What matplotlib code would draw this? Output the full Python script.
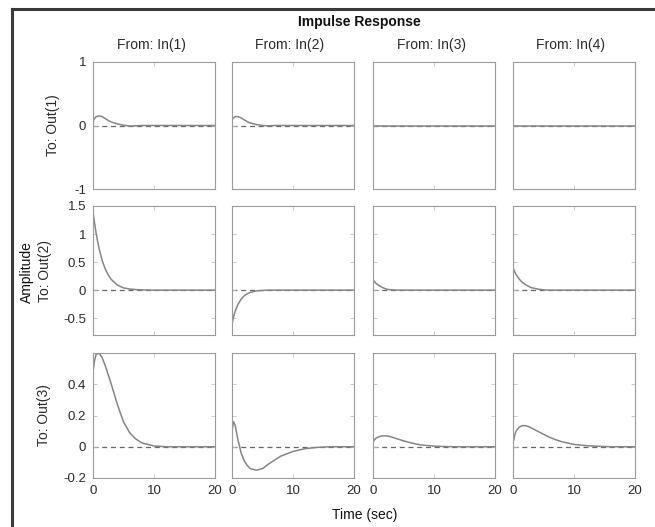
import matplotlib
matplotlib.use("Agg")
import matplotlib.pyplot as plt
from matplotlib.lines import Line2D

plt.rcParams['font.family'] = ['Liberation Sans', 'DejaVu Sans']

W, H = 655, 527

# shared time grid (sec)
t = [0, 0.25, 0.5, 1, 1.5, 2, 2.5, 3, 4, 5, 6, 7, 8, 10, 12, 14, 16, 20]

# impulse responses, Out(i) <- In(j)
out1_in1 = [0.06, 0.11, 0.14, 0.15, 0.14, 0.11, 0.08, 0.055, 0.025, 0.005, -0.008, -0.005, 0, 0, 0, 0, 0, 0]
out1_in2 = [0.09, 0.12, 0.14, 0.14, 0.12, 0.09, 0.06, 0.04, 0.015, 0.0, -0.005, 0, 0, 0, 0, 0, 0, 0]
out1_in3 = [0] * 18
out1_in4 = [0] * 18

out2_in1 = [1.4, 1.2, 1.02, 0.74, 0.53, 0.38, 0.27, 0.19, 0.09, 0.04, 0.02, 0.01, 0.005, 0, 0, 0, 0, 0]
out2_in2 = [-0.6, -0.48, -0.38, -0.25, -0.16, -0.1, -0.065, -0.04, -0.015, -0.005, 0, 0, 0, 0, 0, 0, 0, 0]
out2_in3 = [0.19, 0.15, 0.12, 0.08, 0.05, 0.025, 0.012, 0.006, 0, 0, 0, 0, 0, 0, 0, 0, 0, 0]
out2_in4 = [0.4, 0.33, 0.28, 0.2, 0.14, 0.1, 0.07, 0.045, 0.02, 0.005, 0, 0, 0, 0, 0, 0, 0, 0]

out3_in1 = [0.48, 0.55, 0.59, 0.6, 0.57, 0.52, 0.46, 0.4, 0.27, 0.16, 0.09, 0.05, 0.025, 0.005, 0, 0, 0, 0]
out3_in2 = [0.1, 0.16, 0.14, 0.04, -0.04, -0.09, -0.12, -0.14, -0.15, -0.14, -0.11, -0.085, -0.06, -0.03, -0.012, -0.004, 0, 0]
out3_in3 = [0.03, 0.045, 0.055, 0.065, 0.07, 0.07, 0.068, 0.063, 0.05, 0.038, 0.027, 0.018, 0.011, 0.004, 0.001, 0, 0, 0]
out3_in4 = [0.02, 0.07, 0.1, 0.125, 0.135, 0.135, 0.13, 0.12, 0.1, 0.08, 0.06, 0.045, 0.032, 0.015, 0.007, 0.003, 0, 0]

responses = [[out1_in1, out1_in2, out1_in3, out1_in4],
             [out2_in1, out2_in2, out2_in3, out2_in4],
             [out3_in1, out3_in2, out3_in3, out3_in4]]

in_names = ['From: In(1)', 'From: In(2)', 'From: In(3)', 'From: In(4)']
out_names = ['To: Out(1)', 'To: Out(2)', 'To: Out(3)']
ylims = [(-1, 1), (-0.8, 1.5), (-0.2, 0.6)]
yticks = [[-1, 0, 1], [-0.5, 0, 0.5, 1, 1.5], [-0.2, 0, 0.2, 0.4]]
yticklabels = [['-1', '0', '1'], ['-0.5', '0', '0.5', '1', '1.5'], ['-0.2', '0', '0.2', '0.4']]
xticks = [0, 10, 20]

# subplot boxes in pixels
col_left = [93, 232, 373, 513]
ax_w = 122
row_top = [62, 206, 353]
row_bot = [189, 335, 478]

txt = '#2a2a2a'
fig = plt.figure(figsize=(W / 100, H / 100), dpi=100)

for r in range(3):
    for c in range(4):
        ax = fig.add_axes([col_left[c] / W, 1 - row_bot[r] / H,
                           ax_w / W, (row_bot[r] - row_top[r]) / H])
        ax.axhline(0, color='#666666', lw=0.9, ls=(0, (4, 3)), zorder=1)
        ax.plot(t, responses[r][c], color='#858585', lw=1.1, zorder=2)
        ax.set_xlim(0, 20)
        ax.set_ylim(*ylims[r])
        ax.set_xticks(xticks)
        ax.set_yticks(yticks[r])
        ax.tick_params(direction='in', length=3, width=0.6, color='#c0c0c0',
                       top=True, right=True, labelsize=9.5, labelcolor=txt, pad=5)
        for s in ax.spines.values():
            s.set_color('#9a9a9a')
            s.set_linewidth(0.8)
        if c == 0:
            ax.set_yticklabels(yticklabels[r])
        else:
            ax.set_yticklabels([])
        if r == 2:
            ax.set_xticklabels([str(v) for v in xticks])
        else:
            ax.set_xticklabels([])

for c in range(4):
    fig.text((col_left[c] + ax_w / 2 - 3) / W, 1 - 45 / H, in_names[c],
             ha='center', va='center', fontsize=10, color=txt)

out_x = [53, 45, 44]
for r in range(3):
    fig.text(out_x[r] / W, 1 - (row_top[r] + row_bot[r]) / 2 / H, out_names[r],
             ha='center', va='center', rotation=90, fontsize=10, color=txt)

fig.text(27 / W, 1 - 272 / H, 'Amplitude', ha='center', va='center',
         rotation=90, fontsize=10, color='#111111')
fig.text(359 / W, 1 - 22 / H, 'Impulse Response', ha='center', va='center',
         fontsize=10, color='#111111', fontweight='semibold')
fig.text(365 / W, 1 - 515 / H, 'Time (sec)', ha='center', va='center',
         fontsize=10, color='#111111')

# dark page border along the top and left
fig.add_artist(Line2D([12 / W, 1], [1 - 9 / H, 1 - 9 / H], color='#3a3a3a', lw=2.2))
fig.add_artist(Line2D([12 / W, 12 / W], [0, 1 - 9 / H], color='#3a3a3a', lw=2.2))

fig.savefig('out.png', dpi=100)
